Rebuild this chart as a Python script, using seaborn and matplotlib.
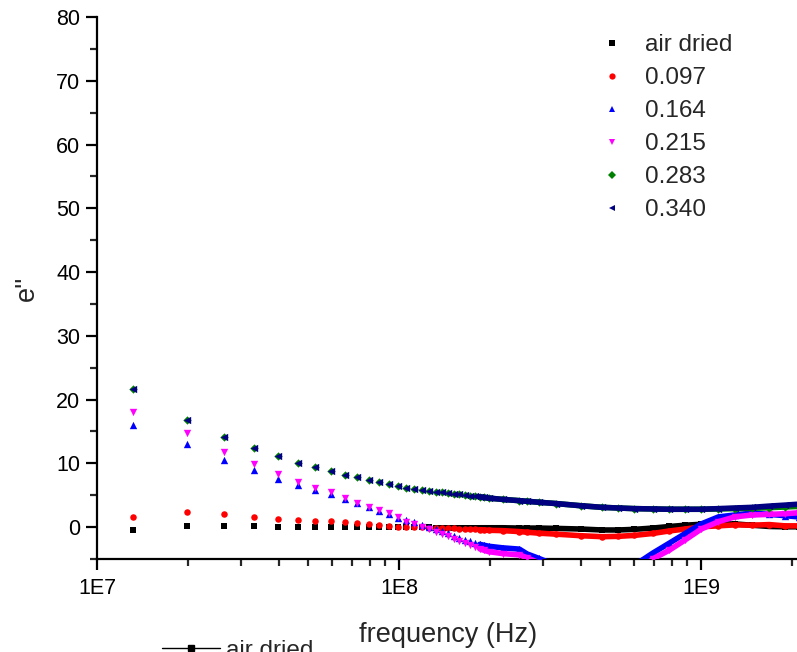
import matplotlib
matplotlib.use("Agg")
import matplotlib.pyplot as plt
import matplotlib.ticker as mticker
from matplotlib.lines import Line2D
import seaborn as sns
import numpy as np

# ---------------- data ----------------
# discrete sweep points (MHz)
freq_sweep_mhz = [13.2, 19.8, 26.4, 33.0, 39.6, 46.2, 52.8, 59.4, 66.0, 72.6,
                  79.2, 85.8, 92.4, 99.0, 105.6, 112.2, 118.8, 125.4, 132.0, 138.6,
                  145.2, 151.8, 158.4, 165.0, 171.6, 178.2, 184.8, 191.4, 198.0]
# dense high-frequency region (MHz), where markers merge into a band
freq_dense_mhz = [220, 250, 265, 290, 330, 400, 470, 530, 600, 690,
                  785, 885, 1000, 1140, 1290, 1470, 1680, 1890, 2100]

labels = ["air dried", "0.097", "0.164", "0.215", "0.283", "0.340"]

air_sweep = [-0.5, 0.1, 0.1, 0.1, 0.05, 0.05, 0.05, 0.05, 0.0, 0.0, 0.0, 0.0, -0.05, -0.05, -0.05,
             -0.05, -0.05, -0.05, -0.1, -0.1, -0.1, -0.1, -0.1, -0.1, -0.1, -0.1, -0.1, -0.1, -0.1]
air_dense = [-0.1, -0.15, -0.15, -0.15, -0.2, -0.3, -0.45, -0.45, -0.35, -0.15,
             0.1, 0.3, 0.45, 0.5, 0.5, 0.3, 0.1, 0.05, 0.05]

s097_sweep = [1.6, 2.4, 2.05, 1.6, 1.25, 1.1, 1.0, 0.9, 0.8, 0.6, 0.45, 0.3, 0.1, 0.05, 0.0,
              -0.05, -0.05, -0.1, -0.1, -0.15, -0.2, -0.2, -0.25, -0.3, -0.35, -0.35, -0.4, -0.45, -0.5]
s097_dense = [-0.55, -0.7, -0.8, -0.95, -1.1, -1.35, -1.5, -1.45, -1.3, -1.0,
              -0.6, -0.3, 0.05, 0.2, 0.35, 0.3, 0.4, 0.2, 0.2]

s164_sweep = [16.0, 13.1, 10.6, 8.95, 7.6, 6.55, 5.8, 5.2, 4.4, 3.8, 3.2, 2.55, 2.05, 1.5, 1.1,
              0.75, 0.4, 0.05, -0.3, -0.65, -1.0, -1.35, -1.65, -1.95, -2.25, -2.5, -2.7, -2.85, -3.0]
s164_dense = [-3.25, -3.45, -4.2, -4.9, -6.0, -8.0, -9.0, -8.0, -6.0, -4.1,
              -2.5, -1.0, 0.5, 1.6, 1.9, 2.2, 2.0, 1.8, 1.6]

s215_sweep = [18.1, 14.7, 11.8, 9.85, 8.3, 7.1, 6.1, 5.5, 4.5, 3.8, 3.2, 2.65, 2.15, 1.6, 0.85,
              0.45, 0.05, -0.35, -0.7, -1.05, -1.45, -1.85, -2.2, -2.5, -2.8, -3.1, -3.4, -3.65, -3.85]
s215_dense = [-4.15, -4.35, -4.8, -5.6, -7.0, -9.0, -10.0, -10.0, -8.0, -5.0,
              -3.6, -2.0, -0.3, 0.85, 1.6, 1.9, 2.0, 2.1, 2.25]

s283_sweep = [21.7, 16.8, 14.1, 12.35, 11.15, 10.1, 9.4, 8.8, 8.2, 7.8, 7.4, 7.06, 6.75, 6.5, 6.2,
              6.0, 5.85, 5.7, 5.55, 5.45, 5.35, 5.25, 5.15, 5.05, 4.95, 4.85, 4.75, 4.65, 4.55]
s283_dense = [4.35, 4.15, 4.05, 3.9, 3.7, 3.35, 3.1, 3.0, 2.9, 2.85,
              2.8, 2.8, 2.8, 2.85, 2.9, 2.95, 3.05, 3.15, 3.25]

s340_sweep = [21.7, 16.8, 14.1, 12.35, 11.15, 10.1, 9.4, 8.8, 8.2, 7.8, 7.4, 7.06, 6.75, 6.5, 6.2,
              6.0, 5.85, 5.7, 5.55, 5.45, 5.35, 5.25, 5.15, 5.05, 4.95, 4.85, 4.75, 4.65, 4.55]
s340_dense = [4.35, 4.15, 4.05, 3.9, 3.7, 3.35, 3.1, 3.0, 2.9, 2.85,
              2.8, 2.8, 2.8, 2.9, 3.0, 3.1, 3.3, 3.45, 3.6]

sweeps = [air_sweep, s097_sweep, s164_sweep, s215_sweep, s283_sweep, s340_sweep]
denses = [air_dense, s097_dense, s164_dense, s215_dense, s283_dense, s340_dense]
colors = ["#000000", "#FF0000", "#0000FF", "#FF00FF", "#008000", "#000080"]
markers = ["s", "o", "^", "v", "D", "<"]
sizes = [16, 22, 28, 28, 18, 28]

# ---------------- style ----------------
sns.set_style("ticks")
plt.rcParams["font.family"] = ["Liberation Sans", "DejaVu Sans"]

fig = plt.figure(figsize=(7.97, 6.52), dpi=100)
ax = fig.add_axes([97 / 797, 1 - 559 / 652, 1 - 97 / 797 + 0.002, (559 - 17) / 652])

fs = np.array(freq_sweep_mhz) * 1e6
fd = np.array(freq_dense_mhz) * 1e6
n_overlap = 3  # last sweep points included in the band line

handles = []
for lab, sw, de, c, m, sz in zip(labels, sweeps, denses, colors, markers, sizes):
    sns.scatterplot(x=fs, y=sw, ax=ax, color=c, marker=m, s=sz, linewidth=0, zorder=3)
    sns.scatterplot(x=fd, y=de, ax=ax, color=c, marker=m, s=sz, linewidth=0, zorder=3)
    lx = np.concatenate([fs[-n_overlap:], fd])
    ly = np.concatenate([np.array(sw[-n_overlap:]), np.array(de)])
    sns.lineplot(x=lx, y=ly, ax=ax, color=c, linewidth=4.0, sort=False,
                 estimator=None, solid_capstyle="round", zorder=3)
    handles.append(Line2D([], [], linestyle="none", marker=m, color=c,
                          markersize=4.5, markeredgewidth=0, label=lab))

ax.set_xscale("log")
ax.set_xlim(1e7, 2.1e9)
ax.set_ylim(-5, 80)

ax.xaxis.set_major_locator(mticker.FixedLocator([1e7, 1e8, 1e9]))
ax.xaxis.set_major_formatter(mticker.FuncFormatter(lambda v, p: "1E%d" % round(np.log10(v))))
ax.xaxis.set_minor_locator(mticker.LogLocator(base=10, subs=np.arange(2, 10)))
ax.xaxis.set_minor_formatter(mticker.NullFormatter())
ax.yaxis.set_major_locator(mticker.MultipleLocator(10))
ax.yaxis.set_minor_locator(mticker.MultipleLocator(5))

for sp in ["top", "right"]:
    ax.spines[sp].set_visible(False)
for sp in ["left", "bottom"]:
    ax.spines[sp].set_linewidth(1.6)
    ax.spines[sp].set_color("black")

ax.tick_params(axis="both", which="major", direction="out", length=8, width=1.6,
               labelsize=15.5, colors="black", pad=4)
ax.tick_params(axis="both", which="minor", direction="out", length=5, width=1.6)
ax.tick_params(axis="x", which="major", pad=6)

ax.set_xlabel("frequency (Hz)", fontsize=19.5, labelpad=16)
ax.set_ylabel("e''", fontsize=19.5, labelpad=12)

leg = ax.legend(handles=handles, loc="upper left", bbox_to_anchor=(0.703, 0.986),
                frameon=False, fontsize=17.5, handletextpad=0.85, handlelength=1.0,
                labelspacing=0.45, borderaxespad=0)

# bottom, partly cut second legend entry
fig.legend(handles=[Line2D([], [], color="black", marker="s", markersize=5, linewidth=1.0)],
           labels=["air dried"], loc="upper left", bbox_to_anchor=(152 / 797, 1 - 630 / 652),
           frameon=False, fontsize=17.5, handlelength=2.4, handletextpad=0.25, borderaxespad=0)

fig.savefig("out.png", dpi=100)
